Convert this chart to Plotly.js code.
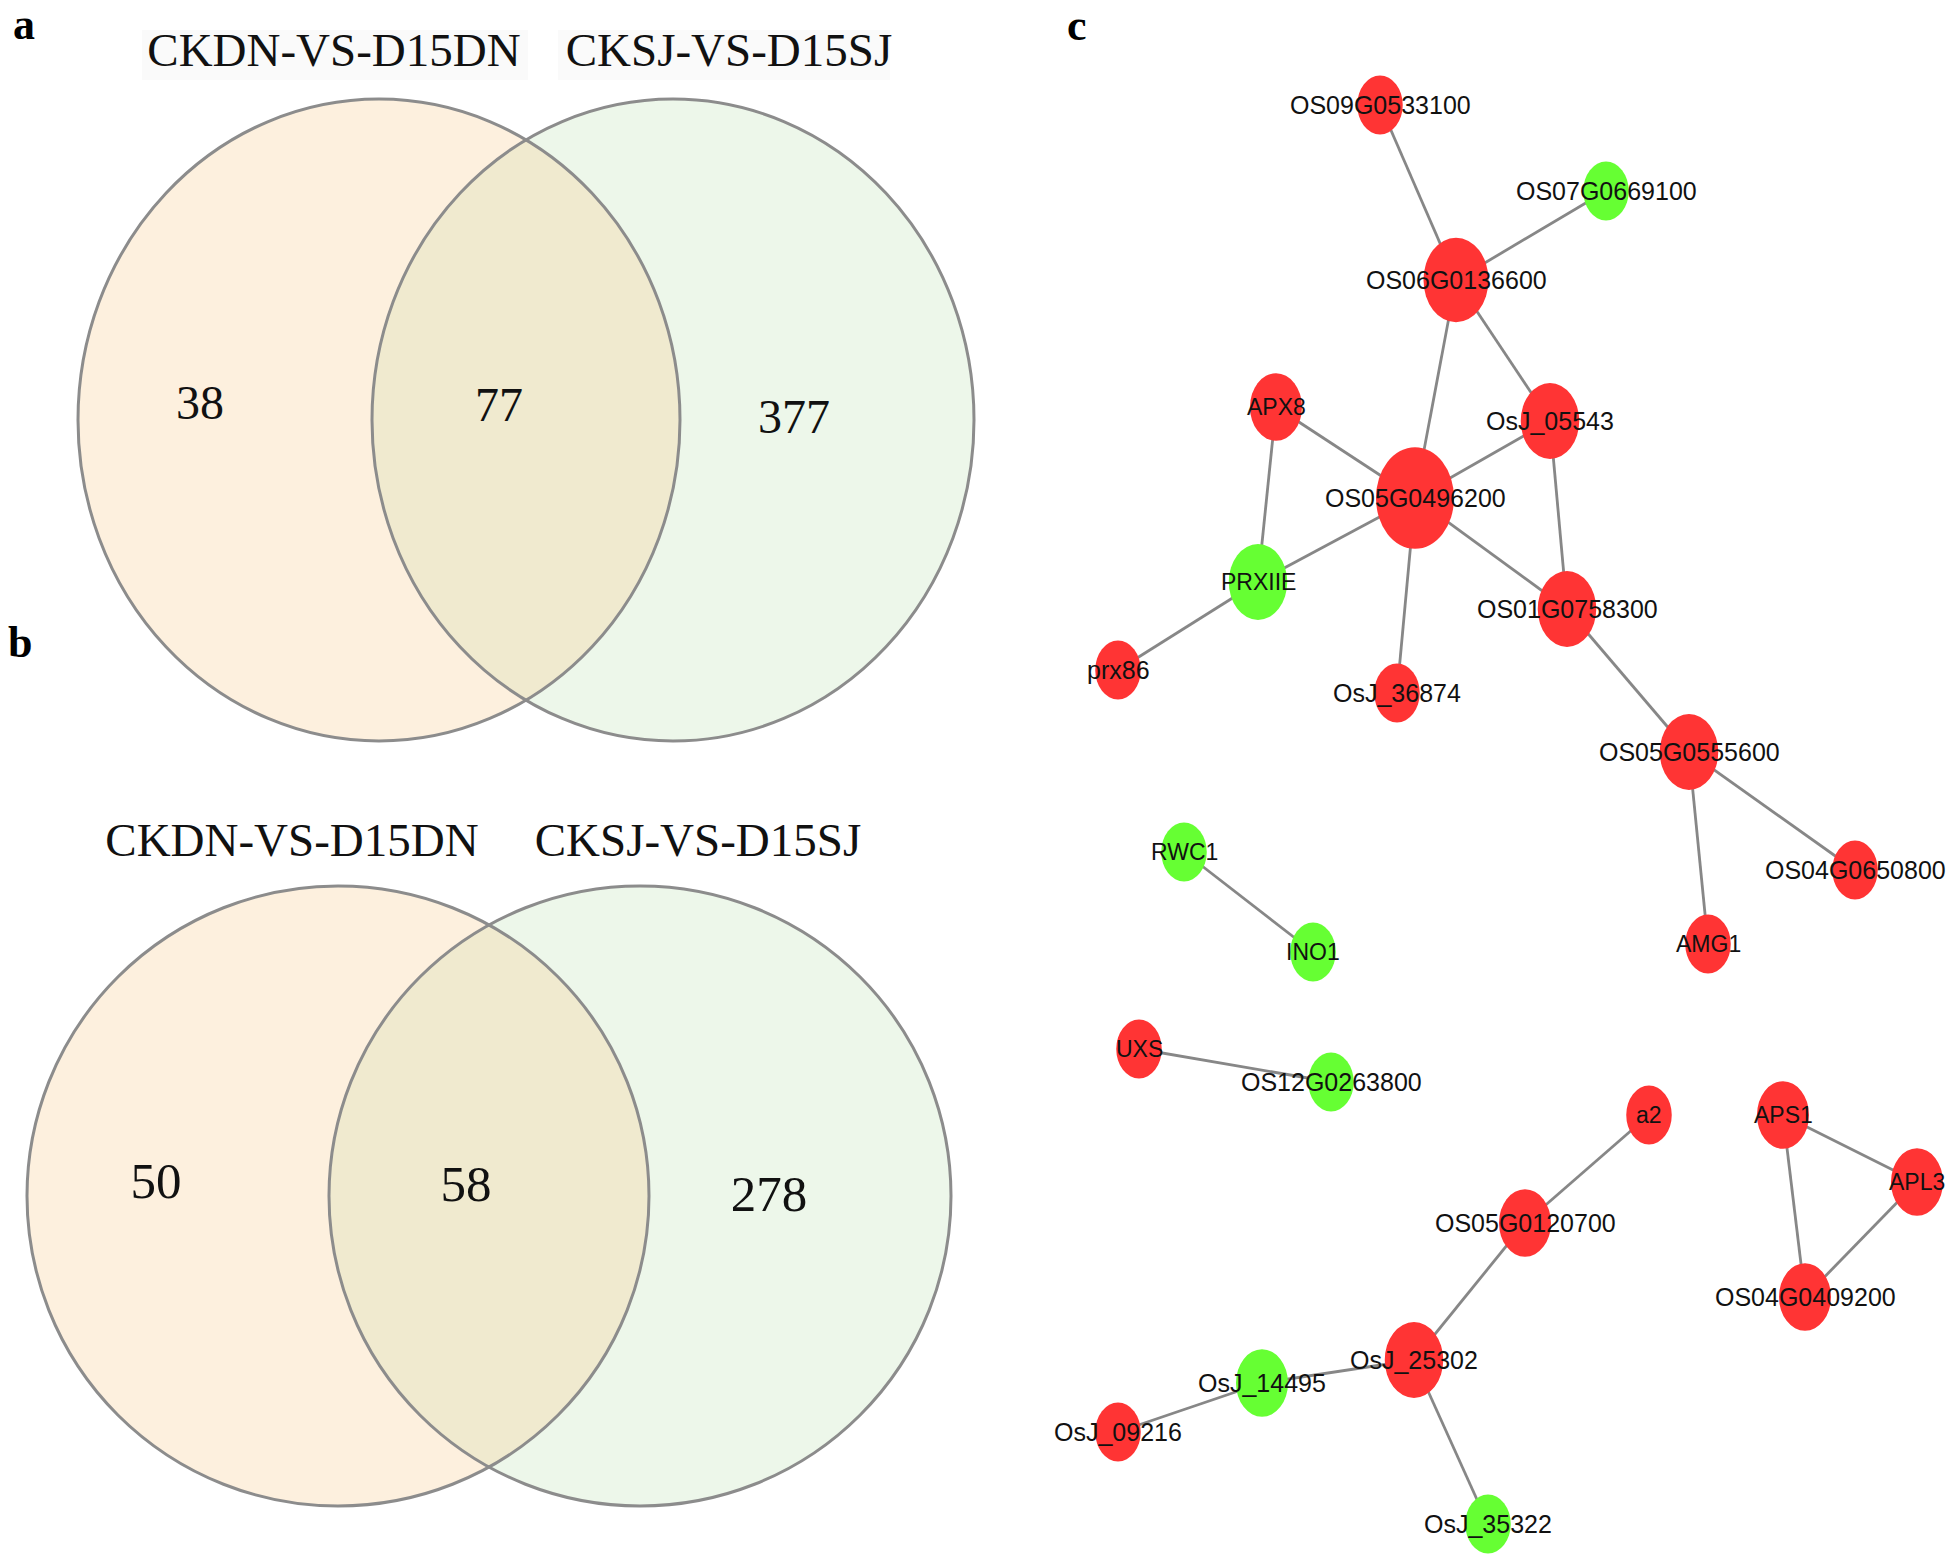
<!DOCTYPE html>
<html><head><meta charset="utf-8">
<script src="https://cdn.plot.ly/plotly-3.0.1.min.js"></script>
<style>html,body{margin:0;padding:0;background:#fff;}#chart{width:1946px;height:1555px;}</style>
</head><body><div id="chart"></div>
<script>
// ---------------- DATA ----------------
// Venn diagrams: [left only, shared, right only]
const vennSetNames = ["CKDN-VS-D15DN", "CKSJ-VS-D15SJ"];
const vennACounts = [38, 77, 377];
const vennBCounts = [50, 58, 278];

// Interaction network (panel c): node layout positions
const nodeNames = ["OS09G0533100","OS07G0669100","OS06G0136600","APX8","OsJ_05543","OS05G0496200",
  "PRXIIE","OS01G0758300","prx86","OsJ_36874","OS05G0555600","OS04G0650800","AMG1",
  "RWC1","INO1","UXS","OS12G0263800","a2","APS1","APL3","OS05G0120700","OS04G0409200",
  "OsJ_25302","OsJ_14495","OsJ_09216","OsJ_35322"];
const nodeX = [1380,1606,1456,1276,1550,1415,1258,1567,1118,1397,1689,1855,1708,
  1184,1313,1139,1331,1649,1783,1917,1525,1805,1414,1262,1118,1488];
const nodeY = [105,191,280,407,421,498,582,609,670,693,752,870,944,
  852,952,1049,1082,1115,1115,1182,1223,1297,1360,1383,1432,1524];
const nodeRegulation = ["up","down","up","up","up","up","down","up","up","up","up","up","up",
  "down","down","up","down","up","up","up","up","up","up","down","up","down"];
const edgeSource = ["OS09G0533100","OS07G0669100","OS06G0136600","OS06G0136600","APX8","APX8",
  "OsJ_05543","OsJ_05543","OS05G0496200","OS05G0496200","OS05G0496200","PRXIIE",
  "OS01G0758300","OS05G0555600","OS05G0555600","RWC1","UXS","a2","OS05G0120700",
  "OsJ_25302","OsJ_14495","OsJ_25302","APS1","APS1","APL3"];
const edgeTarget = ["OS06G0136600","OS06G0136600","OS05G0496200","OsJ_05543","OS05G0496200","PRXIIE",
  "OS05G0496200","OS01G0758300","PRXIIE","OsJ_36874","OS01G0758300","prx86",
  "OS05G0555600","OS04G0650800","AMG1","INO1","OS12G0263800","OS05G0120700","OsJ_25302",
  "OsJ_14495","OsJ_09216","OsJ_35322","APL3","OS04G0409200","OS04G0409200"];

// ---------------- STYLE / LAYOUT ----------------
const W = 1946, H = 1555;
const serif = "Liberation Serif, Times New Roman, serif";
const sans = "Liberation Sans, Arial, sans-serif";
const vennPanels = [
  {counts: vennACounts, left: {cx: 379, cy: 420, rx: 301, ry: 321}, right: {cx: 673, cy: 420, rx: 301, ry: 321},
   titleY: 54, titleX: [334, 729], titleBox: true, numPos: [[200,407],[499,409],[794,421]], numSize: 48, titleSize: 47},
  {counts: vennBCounts, left: {cx: 338, cy: 1196, rx: 311, ry: 310}, right: {cx: 640, cy: 1196, rx: 311, ry: 310},
   titleY: 844, titleX: [292, 698], titleBox: false, numPos: [[156,1185],[466,1188],[769,1198]], numSize: 51, titleSize: 47}
];
const nodeColor = {up: "#FF3434", down: "#66FF33"};
const edgeColor = "#878787";

const shapes = [];
const annotations = [];
const traces = [];

vennPanels.forEach(p => {
  const ell = (e, fill, line) => ({type: "circle", xref: "x", yref: "y", layer: "below",
    x0: e.cx - e.rx, x1: e.cx + e.rx, y0: e.cy - e.ry, y1: e.cy + e.ry,
    fillcolor: fill, line: line});
  shapes.push(ell(p.right, "rgba(195,228,185,0.30)", {width: 0}));
  shapes.push(ell(p.left, "rgba(248,205,145,0.30)", {width: 0}));
  shapes.push(ell(p.right, "rgba(0,0,0,0)", {color: "#8c8c8c", width: 3}));
  shapes.push(ell(p.left, "rgba(0,0,0,0)", {color: "#8c8c8c", width: 3}));
  if (p.titleBox) {
    shapes.push({type: "rect", xref: "x", yref: "y", layer: "below", x0: 142, x1: 528, y0: 30, y1: 80,
      fillcolor: "rgba(0,0,0,0.018)", line: {width: 0}});
    shapes.push({type: "rect", xref: "x", yref: "y", layer: "below", x0: 558, x1: 890, y0: 30, y1: 80,
      fillcolor: "rgba(0,0,0,0.018)", line: {width: 0}});
  }
  traces.push({type: "scatter", mode: "text", x: p.titleX, y: [p.titleY, p.titleY], text: vennSetNames,
    textposition: "middle center", textfont: {family: serif, size: p.titleSize, color: "#111"},
    hoverinfo: "skip", showlegend: false});
  traces.push({type: "scatter", mode: "text", x: p.numPos.map(d => d[0]), y: p.numPos.map(d => d[1]),
    text: p.counts.map(String), textposition: "middle center",
    textfont: {family: serif, size: p.numSize, color: "#111"}, hoverinfo: "skip", showlegend: false});
});

// edges
const idx = {};
nodeNames.forEach((n, i) => idx[n] = i);
const ex = [], ey = [];
edgeSource.forEach((s, k) => {
  const a = idx[s], b = idx[edgeTarget[k]];
  ex.push(nodeX[a], nodeX[b], null);
  ey.push(nodeY[a], nodeY[b], null);
});
traces.push({type: "scatter", mode: "lines", x: ex, y: ey, line: {color: edgeColor, width: 2.8},
  hoverinfo: "skip", showlegend: false});

// node degree -> node size (Cytoscape-style)
const degree = nodeNames.map(() => 0);
edgeSource.forEach((s, k) => { degree[idx[s]]++; degree[idx[edgeTarget[k]]]++; });
nodeNames.forEach((n, i) => {
  const rw = (39 + 6.5 * degree[i]) / 2, rh = (50.5 + 8.5 * degree[i]) / 2;
  shapes.push({type: "circle", xref: "x", yref: "y", layer: "above",
    x0: nodeX[i] - rw, x1: nodeX[i] + rw, y0: nodeY[i] - rh, y1: nodeY[i] + rh,
    fillcolor: nodeColor[nodeRegulation[i]], line: {width: 0}});
  const shortLabel = n.length <= 6 && n !== "prx86";
  annotations.push({x: nodeX[i], y: nodeY[i], xref: "x", yref: "y", text: n, showarrow: false,
    xanchor: "center", yanchor: "middle",
    font: {family: sans, size: shortLabel ? 23 : 25, color: "#111"}});
});

// panel letters
[["a", 24, 24], ["b", 20, 642], ["c", 1077, 25]].forEach(l => {
  annotations.push({x: l[1], y: l[2], xref: "x", yref: "y", text: "<b>" + l[0] + "</b>", showarrow: false,
    xanchor: "center", yanchor: "middle", font: {family: serif, size: 44, color: "#000"}});
});

const layout = {
  width: W, height: H, margin: {l: 0, r: 0, t: 0, b: 0},
  paper_bgcolor: "#fff", plot_bgcolor: "#fff",
  xaxis: {range: [0, W], visible: false, fixedrange: true},
  yaxis: {range: [H, 0], visible: false, fixedrange: true},
  shapes: shapes, annotations: annotations, showlegend: false
};
Plotly.newPlot("chart", traces, layout, {staticPlot: true});
</script></body></html>
